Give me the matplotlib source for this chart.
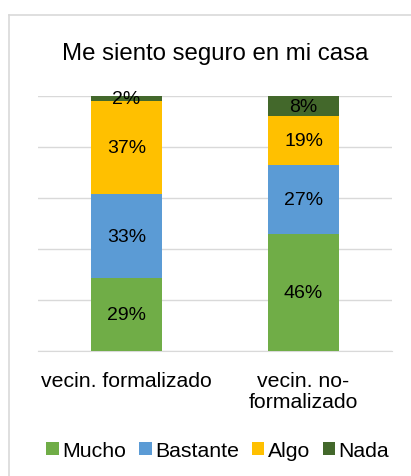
import numpy as np
import matplotlib.pyplot as plt
from matplotlib.lines import Line2D

plt.rcParams['font.family'] = ['Liberation Sans', 'DejaVu Sans']

# Dane
categories = ['vecin. formalizado', 'vecin. no-\nformalizado']
series = ['Mucho', 'Bastante', 'Algo', 'Nada']
mucho = [29, 46]
bastante = [33, 27]
algo = [37, 19]
nada = [2, 8]
colors = ['#70AD47', '#5B9BD5', '#FFC000', '#43682B']

values = np.array([mucho, bastante, algo, nada], dtype=float)
shares = values / values.sum(axis=0) * 100  # wykres 100% skumulowany

fig = plt.figure(figsize=(4.11, 4.77), dpi=100)
ax = fig.add_axes([0.092, 0.262, 0.862, 0.535])

x = np.arange(len(categories))
bottom = np.zeros(len(categories))
for i, name in enumerate(series):
    bars = ax.bar(x, shares[i], 0.4, bottom=bottom, color=colors[i], label=name, zorder=3)
    for j, b in enumerate(bars):
        ax.text(b.get_x() + b.get_width() / 2, bottom[j] + shares[i][j] / 2,
                f'{values[i][j]:.0f}%', ha='center', va='center', fontsize=14, zorder=4)
    bottom += shares[i]

ax.set_xlim(-0.5, 1.5)
ax.set_ylim(0, 100)
ax.set_yticks(np.arange(0, 101, 20))
ax.yaxis.grid(True, color='#D9D9D9', linewidth=1, zorder=0)
ax.tick_params(left=False, labelleft=False, bottom=False)
ax.set_xticks(x)
ax.set_xticklabels(categories, fontsize=15.3, linespacing=1.15)
ax.tick_params(axis='x', pad=11)
for s in ['top', 'right', 'left']:
    ax.spines[s].set_visible(False)
ax.spines['bottom'].set_color('#D9D9D9')

fig.text(0.523, 0.887, 'Me siento seguro en mi casa', ha='center', va='center', fontsize=17.3)

fig.legend(loc='center', bbox_to_anchor=(0.53, 0.053), ncol=4, frameon=False, fontsize=15.3,
           handlelength=0.6, handleheight=0.6, handletextpad=0.15, columnspacing=0.6)

# ramka wykresu
fig.add_artist(Line2D([9 / 411, 9 / 411], [0, 1 - 16 / 477], color='#D9D9D9', linewidth=1.2))
fig.add_artist(Line2D([9 / 411, 1], [1 - 16 / 477, 1 - 16 / 477], color='#D9D9D9', linewidth=1.2))

plt.savefig('out.png', dpi=100)
